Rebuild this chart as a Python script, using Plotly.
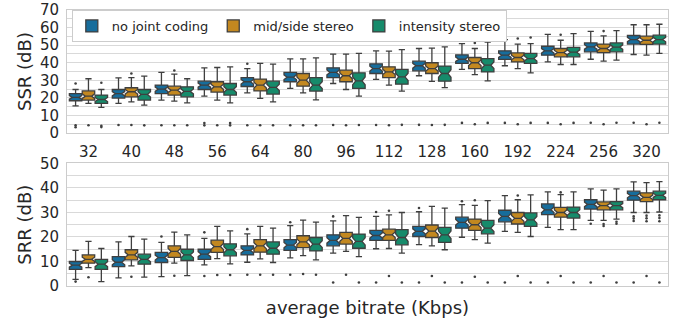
import numpy as np
import plotly.graph_objects as go

categories = ["32", "40", "48", "56", "64", "80", "96", "112", "128", "160", "192", "224", "256", "320"]
series_names = ["no joint coding", "mid/side stereo", "intensity stereo"]
series_colors = ["#176d9c", "#c38820", "#168b6b"]

# ---------------- SSR (top) ----------------
ssr_none_q1 = [18.4, 19.9, 22.5, 24.8, 26.5, 29.2, 31.6, 33.9, 35.4, 39.6, 41.9, 44.3, 46.2, 50.6]
ssr_none_med = [20.3, 22.4, 25.0, 27.3, 29.2, 31.8, 34.5, 36.7, 38.3, 42.0, 44.3, 46.8, 49.0, 53.2]
ssr_none_q3 = [22.5, 24.8, 27.3, 29.5, 31.6, 34.5, 37.1, 39.4, 40.9, 44.5, 46.8, 49.4, 51.3, 55.5]
ssr_none_lo = [15.5, 16.9, 18.8, 21.0, 22.9, 25.4, 28.2, 30.5, 32.6, 36.2, 38.3, 40.5, 42.0, 44.7]
ssr_none_hi = [24.8, 31.4, 34.5, 37.1, 36.7, 42.2, 44.9, 46.8, 48.1, 50.9, 53.2, 56.1, 57.8, 61.6]
ssr_none_out = [[28.2, 4.4, 3.3], [4.6], [4.5], [5.7, 4.4], [39.4, 4.5], [4.5], [4.6], [4.6], [4.7],
                [5.8], [5.8], [5.8], [5.9], [5.9]]

ssr_ms_q1 = [18.8, 20.6, 21.6, 23.3, 24.0, 26.7, 29.2, 31.6, 33.9, 36.7, 40.5, 43.4, 45.8, 50.4]
ssr_ms_med = [21.0, 23.5, 24.4, 26.3, 27.3, 30.1, 32.6, 34.8, 36.7, 40.0, 43.0, 45.8, 48.1, 52.8]
ssr_ms_q3 = [24.0, 25.8, 26.7, 29.2, 30.7, 33.9, 35.8, 37.7, 40.0, 43.0, 45.6, 48.1, 50.6, 55.1]
ssr_ms_lo = [16.9, 17.8, 18.2, 18.8, 19.7, 22.9, 24.8, 27.3, 29.4, 33.3, 36.7, 39.0, 40.9, 44.3]
ssr_ms_hi = [30.9, 31.6, 33.5, 37.3, 39.6, 42.2, 44.9, 46.6, 48.3, 48.1, 50.6, 52.8, 55.3, 61.6]
ssr_ms_out = [[4.5], [33.9, 4.6], [35.6, 4.5], [4.5], [4.5], [4.5], [4.5], [4.5], [4.6],
              [51.3, 5.0], [53.8, 5.0], [55.9, 5.0], [58.0, 5.0], [5.0]]

ssr_is_q1 = [16.9, 18.8, 20.6, 21.6, 22.2, 23.9, 25.4, 27.8, 29.5, 34.8, 39.6, 43.4, 46.2, 50.6]
ssr_is_med = [19.1, 22.0, 23.7, 24.8, 26.0, 27.3, 29.7, 32.0, 33.9, 38.6, 42.4, 46.0, 48.9, 53.2]
ssr_is_q3 = [21.6, 24.8, 26.3, 28.2, 29.5, 31.6, 34.3, 36.2, 38.1, 42.4, 45.3, 48.7, 51.3, 55.7]
ssr_is_lo = [14.6, 15.9, 17.2, 17.2, 17.8, 18.9, 21.0, 23.9, 25.9, 29.7, 34.3, 39.0, 41.5, 45.3]
ssr_is_hi = [24.8, 32.4, 30.9, 37.7, 39.2, 42.8, 45.3, 47.5, 49.0, 51.7, 50.9, 56.6, 58.3, 61.9]
ssr_is_out = [[28.6, 4.2, 3.4], [4.4], [4.5], [5.7, 4.4], [4.5], [4.5], [4.6], [4.7], [4.7],
              [5.8], [54.4, 5.8], [5.8], [5.9], [5.9]]

# ---------------- SRR (bottom) ----------------
srr_none_q1 = [6.8, 7.9, 9.6, 10.9, 12.7, 14.5, 16.4, 18.6, 20.2, 23.6, 26.2, 29.1, 31.4, 35.0]
srr_none_med = [8.5, 9.7, 11.6, 13.0, 14.5, 16.7, 18.6, 20.6, 22.3, 26.0, 28.4, 31.1, 33.3, 36.9]
srr_none_q3 = [10.0, 12.0, 13.7, 15.0, 16.4, 18.9, 20.9, 22.7, 24.3, 28.1, 30.9, 33.5, 35.2, 38.7]
srr_none_lo = [2.7, 3.3, 3.8, 8.6, 9.7, 11.5, 13.4, 15.2, 16.9, 19.9, 22.3, 23.9, 26.8, 30.0]
srr_none_hi = [14.5, 18.0, 17.8, 19.4, 21.3, 24.6, 26.6, 28.4, 30.3, 33.2, 36.9, 38.4, 39.6, 42.5]
srr_none_out = [[1.8], [], [20.2], [21.9, 4.1], [23.2, 4.6], [26.0, 4.6], [28.4, 1.4], [30.2, 1.4],
                [31.8, 1.4], [34.6, 1.4], [1.4], [1.4], [25.4, 1.4], [28.4, 27.5, 26.5, 1.4]]

srr_ms_q1 = [9.3, 10.7, 11.7, 13.7, 13.8, 15.7, 17.1, 18.6, 19.8, 22.7, 25.3, 28.1, 31.1, 34.4]
srr_ms_med = [10.9, 12.7, 14.1, 16.1, 16.4, 18.0, 19.4, 20.9, 22.4, 25.0, 27.6, 30.0, 32.8, 36.2]
srr_ms_q3 = [12.7, 14.8, 16.4, 18.7, 18.9, 20.5, 21.9, 23.2, 24.9, 27.3, 30.0, 32.1, 34.3, 38.0]
srr_ms_lo = [7.5, 8.2, 9.3, 11.2, 11.1, 12.4, 14.1, 15.3, 16.4, 18.9, 21.9, 23.0, 26.8, 30.0]
srr_ms_hi = [18.2, 20.2, 22.0, 24.3, 24.3, 26.9, 28.7, 29.0, 32.5, 32.9, 35.2, 37.3, 39.1, 42.2]
srr_ms_out = [[3.6], [3.8], [4.2], [4.5], [4.6], [4.9], [4.6], [30.7, 4.1], [4.1], [35.0, 3.8],
              [36.9, 4.1], [38.2, 4.1], [25.3, 24.5, 4.1], [28.7, 27.6, 26.4, 4.1]]

srr_is_q1 = [6.8, 8.9, 10.4, 12.3, 13.0, 14.3, 15.4, 16.8, 17.8, 21.3, 24.3, 27.7, 31.1, 35.2]
srr_is_med = [8.9, 10.9, 12.7, 14.8, 15.4, 17.1, 18.2, 19.8, 20.9, 23.6, 27.0, 30.0, 32.8, 37.0]
srr_is_q3 = [10.9, 13.0, 15.0, 17.2, 18.0, 19.8, 21.2, 23.0, 23.9, 26.8, 29.8, 32.2, 34.4, 38.7]
srr_is_lo = [1.8, 3.6, 4.2, 9.0, 9.6, 10.7, 12.0, 13.4, 14.8, 17.5, 20.2, 23.0, 27.3, 30.2]
srr_is_hi = [15.3, 19.1, 20.9, 22.5, 23.6, 26.1, 28.0, 30.0, 31.8, 34.8, 37.2, 38.4, 39.6, 42.6]
srr_is_out = [[], [], [], [4.5], [4.6], [4.6], [1.4], [1.4], [1.4], [1.4], [1.4], [1.4],
              [26.2, 25.4, 1.4], [28.8, 27.7, 26.4, 1.4]]

ssr_stats = [
    (ssr_none_q1, ssr_none_med, ssr_none_q3, ssr_none_lo, ssr_none_hi, ssr_none_out),
    (ssr_ms_q1, ssr_ms_med, ssr_ms_q3, ssr_ms_lo, ssr_ms_hi, ssr_ms_out),
    (ssr_is_q1, ssr_is_med, ssr_is_q3, ssr_is_lo, ssr_is_hi, ssr_is_out),
]
srr_stats = [
    (srr_none_q1, srr_none_med, srr_none_q3, srr_none_lo, srr_none_hi, srr_none_out),
    (srr_ms_q1, srr_ms_med, srr_ms_q3, srr_ms_lo, srr_ms_hi, srr_ms_out),
    (srr_is_q1, srr_is_med, srr_is_q3, srr_is_lo, srr_is_hi, srr_is_out),
]

N_SAMPLES = 40
OFFSETS = [-0.3, 0.0, 0.3]
BOX_W = 0.29
EDGE = "#3f3f3f"
TXT = "#262626"
GRID = "#d9d9d9"
FONT = "DejaVu Sans"

fig = go.Figure()
idx = np.arange(len(categories))

for panel, (stats, xa, ya) in enumerate([(ssr_stats, "x", "y"), (srr_stats, "x2", "y2")]):
    for s, (q1, med, q3, lo, hi, outs) in enumerate(stats):
        q1a, q3a = np.array(q1), np.array(q3)
        notch = 1.57 * (q3a - q1a) / np.sqrt(N_SAMPLES)
        pos = idx + OFFSETS[s]
        fig.add_trace(go.Box(
            x=pos, q1=q1, median=med, q3=q3, lowerfence=lo, upperfence=hi,
            notchspan=notch, notched=True, notchwidth=0.25, width=BOX_W,
            fillcolor=series_colors[s], line=dict(color=EDGE, width=1.3),
            whiskerwidth=0.5, boxpoints=False, name=series_names[s],
            legendgroup=series_names[s], showlegend=(panel == 0),
            xaxis=xa, yaxis=ya, hoverinfo="skip",
        ))
        ox, oy = [], []
        for i, vals in enumerate(outs):
            for v in vals:
                ox.append(pos[i])
                oy.append(v)
        fig.add_trace(go.Scatter(
            x=ox, y=oy, mode="markers",
            marker=dict(size=2.6, color=EDGE),
            showlegend=False, xaxis=xa, yaxis=ya, hoverinfo="skip",
        ))

axis_common = dict(
    showgrid=False, zeroline=False, showline=True, mirror=True, automargin=False,
    linecolor="#cccccc", linewidth=1, range=[-0.5, len(categories) - 0.5],
)
yaxis_common = dict(
    showgrid=True, gridcolor=GRID, gridwidth=1, automargin=False,
    zeroline=False, showline=True, mirror=True, linecolor="#cccccc",
    ticks="outside", ticklen=4, tickcolor="rgba(0,0,0,0)",
    tickfont=dict(size=15),
)
fig.update_layout(
    width=685, height=322,
    margin=dict(l=67, r=17, t=10, b=36),
    paper_bgcolor="white", plot_bgcolor="white",
    font=dict(family=FONT, color=TXT, size=15),
    xaxis=dict(**axis_common, anchor="y", domain=[0, 1],
               tickmode="array", tickvals=list(idx), ticktext=categories,
               ticks="outside", ticklen=5, tickcolor="rgba(0,0,0,0)",
               tickfont=dict(size=15)),
    xaxis2=dict(**axis_common, anchor="y2", domain=[0, 1], showticklabels=False,
                title=dict(text="average bitrate (Kbps)", font=dict(size=18), standoff=15)),
    yaxis=dict(**yaxis_common, domain=[0.554, 1.0], range=[0, 70], anchor="x",
               tickmode="array", tickvals=list(range(0, 71, 10)),
               minor=dict(dtick=5, tick0=0, showgrid=True, gridcolor=GRID, gridwidth=1),
               title=dict(text="SSR (dB)", font=dict(size=18), standoff=3)),
    yaxis2=dict(**yaxis_common, domain=[0.0, 0.444], range=[0, 50], anchor="x2",
                tickmode="array", tickvals=list(range(0, 51, 10)),
                minor=dict(dtick=5, tick0=0, showgrid=True, gridcolor=GRID, gridwidth=1),
                title=dict(text="SRR (dB)", font=dict(size=18), standoff=3)),
    legend=dict(orientation="h", x=0.008, y=1.0, xanchor="left", yanchor="top",
                bgcolor="white", bordercolor="#cccccc", borderwidth=1,
                font=dict(size=13, color=TXT), itemwidth=30, tracegroupgap=0),
    showlegend=True,
)

fig.write_html("out.html", config={"displayModeBar": False},
               post_script="document.body.style.margin='0';")
